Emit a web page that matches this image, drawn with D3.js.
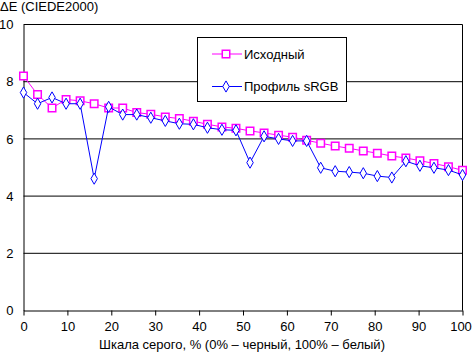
<!DOCTYPE html>
<html>
<head>
<meta charset="utf-8">
<script src="https://cdn.jsdelivr.net/npm/d3@7"></script>
<style>
  html, body { margin: 0; padding: 0; background: #fff; }
  svg { display: block; font-family: "Liberation Sans", Arial, sans-serif; }
</style>
</head>
<body>
<div id="chart"></div>
<script>
// --- data ---
const grayLevels = [0, 3.2, 6.5, 9.7, 12.9, 16.1, 19.4, 22.6, 25.8, 29.0, 32.3, 35.5, 38.7, 41.9, 45.2, 48.4,
                    51.6, 54.8, 58.1, 61.3, 64.5, 67.7, 71.0, 74.2, 77.4, 80.6, 83.9, 87.1, 90.3, 93.5, 96.8, 100];
const originalDE = [8.20, 7.55, 7.08, 7.38, 7.33, 7.23, 7.08, 7.08, 6.92, 6.86, 6.77, 6.71, 6.62, 6.51, 6.42, 6.37,
                    6.28, 6.21, 6.13, 6.06, 5.95, 5.85, 5.75, 5.67, 5.58, 5.50, 5.40, 5.33, 5.24, 5.14, 5.03, 4.90];
const srgbDE     = [7.62, 7.23, 7.45, 7.23, 7.23, 4.61, 7.12, 6.85, 6.85, 6.74, 6.63, 6.53, 6.51, 6.39, 6.32, 6.30,
                    5.17, 6.09, 6.00, 5.93, 5.93, 4.99, 4.87, 4.84, 4.80, 4.70, 4.65, 5.22, 5.06, 4.99, 4.91, 4.74];
const seriesNames = ["Исходный", "Профиль sRGB"];
const xTicks = [0, 10, 20, 30, 40, 50, 60, 70, 80, 90, 100];
const yTicks = [0, 2, 4, 6, 8, 10];

const W = 472, H = 353;
const margin = {top: 24, right: 10, bottom: 43, left: 23};

const svg = d3.select("#chart").append("svg")
    .attr("width", W).attr("height", H);

const x = d3.scaleLinear().domain([0, 100]).range([margin.left + 0.5, W - margin.right + 0.5]);
const y = d3.scaleLinear().domain([0, 10]).range([H - margin.bottom + 0.5, margin.top + 0.5]);

// gridlines
svg.append("g").selectAll("line").data(yTicks.filter(d => d > 0)).join("line")
    .attr("x1", x(0)).attr("x2", x(100))
    .attr("y1", d => y(d)).attr("y2", d => y(d))
    .attr("stroke", "#000").attr("stroke-width", 1);

// right border
svg.append("line")
    .attr("x1", x(100)).attr("x2", x(100)).attr("y1", y(10)).attr("y2", y(0))
    .attr("stroke", "#000");

// y axis
const yAxis = svg.append("g").attr("transform", `translate(${x(0)},0)`)
    .call(d3.axisLeft(y).tickValues(yTicks).tickSize(0).tickPadding(10));
yAxis.select(".domain").attr("stroke", "#000");
yAxis.selectAll("text").attr("font-size", 13).attr("fill", "#000")
    .attr("font-family", "Liberation Sans, Arial, sans-serif");

// x axis
const xAxis = svg.append("g").attr("transform", `translate(0,${y(0)})`)
    .call(d3.axisBottom(x).tickValues(xTicks).tickSize(5).tickPadding(6).tickSizeOuter(0));
xAxis.select(".domain").attr("stroke", "#000");
xAxis.selectAll(".tick line").attr("stroke", "#000");
xAxis.selectAll("text").attr("font-size", 13).attr("fill", "#000")
    .attr("font-family", "Liberation Sans, Arial, sans-serif");
// last label sits against the right edge, pull it in a touch
xAxis.selectAll(".tick text").filter(d => d === 100).attr("dx", "-2");

// titles
svg.append("text").attr("x", 0).attr("y", 11).attr("font-size", 13)
    .text("ΔE (CIEDE2000)");
svg.append("text").attr("x", 242).attr("y", 349).attr("font-size", 13)
    .attr("text-anchor", "middle")
    .text("Шкала серого, % (0% – черный, 100% – белый)");

const line = d3.line().x(d => x(d[0])).y(d => y(d[1]));
const squareSym = d3.symbol().type(d3.symbolSquare).size(56);
const diamondSym = d3.symbol().type(d3.symbolDiamond).size(36);

function drawSeries(values, color, sym, sw) {
    const pts = grayLevels.map((g, i) => [g, values[i]]);
    svg.append("path").datum(pts)
        .attr("fill", "none").attr("stroke", color).attr("stroke-width", 1)
        .attr("d", line);
    svg.append("g").selectAll("path").data(pts).join("path")
        .attr("transform", d => `translate(${x(d[0])},${y(d[1])})`)
        .attr("d", sym)
        .attr("fill", "#fff").attr("stroke", color).attr("stroke-width", sw);
}
drawSeries(originalDE, "#ff00ff", squareSym, 1.5);
drawSeries(srgbDE, "#0000ff", diamondSym, 1);

// legend
const lg = svg.append("g");
lg.append("rect").attr("x", 197.5).attr("y", 37.5).attr("width", 149).attr("height", 64)
    .attr("fill", "#fff").attr("stroke", "#000");
const legendRows = [
    {name: seriesNames[0], color: "#ff00ff", sym: squareSym, sw: 1.5, yy: 54},
    {name: seriesNames[1], color: "#0000ff", sym: diamondSym, sw: 1, yy: 86.5}
];
legendRows.forEach(r => {
    lg.append("line").attr("x1", 212).attr("x2", 242).attr("y1", r.yy).attr("y2", r.yy)
        .attr("stroke", r.color);
    lg.append("path").attr("transform", `translate(226,${r.yy})`).attr("d", r.sym)
        .attr("fill", "#fff").attr("stroke", r.color).attr("stroke-width", r.sw);
    lg.append("text").attr("x", 244).attr("y", r.yy + 4.5).attr("font-size", 13).text(r.name);
});
</script>
</body>
</html>
